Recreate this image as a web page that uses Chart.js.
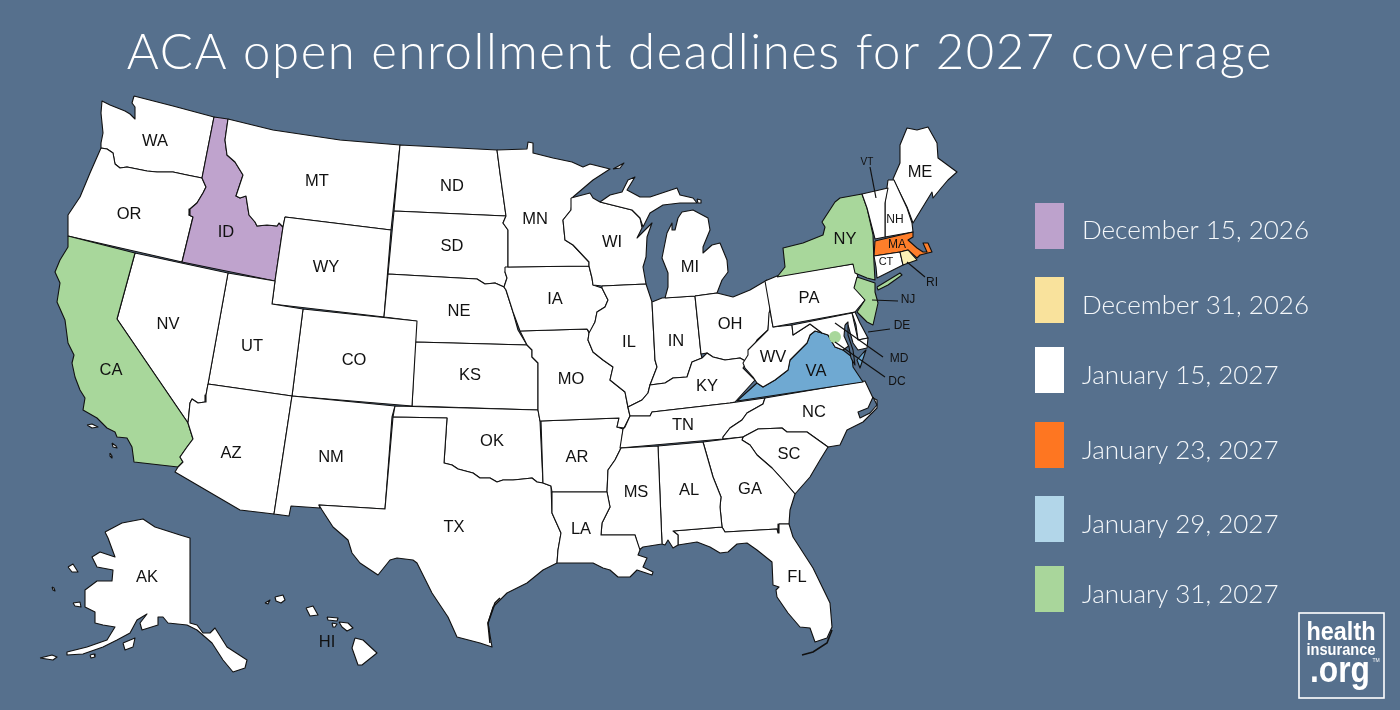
<!DOCTYPE html>
<html><head><meta charset="utf-8">
<style>html,body{margin:0;padding:0;background:#56708d}canvas{display:block}</style>
<script src="https://cdn.jsdelivr.net/npm/chart.js@4"></script></head>
<body><canvas id="c" width="1400" height="710"></canvas>
<script>
const titleText="ACA open enrollment deadlines for 2027 coverage";
const legendLabels=["December 15, 2026","December 31, 2026","January 15, 2027","January 23, 2027","January 29, 2027","January 31, 2027"];
const legendColors=["#bda2cc","#f9e29c","#ffffff","#fe7621","#b2d6e9","#a9d69b"];
const legendTops=[203,277,347,422,496,566];
const legendMids=[231,306,376,451,525,595];
const BG="#56708d",W="#ffffff",P="#bfa3cd",G="#a8d79b",B="#6fa9d2",O="#fe7e2a",Y="#fbf0b4";

const WA=[134,96,173,106,214,117,202,178,187,175,173,172,157,172,147,171,137,169,127,167,120,168,115,164,113,153,107,149,101,148,101,143,103,133,101,113,102,101,110,105,125,111,130,114,135,119,135,107,132,103];
const OR=[101,148,107,149,113,153,115,164,120,168,127,167,137,169,147,171,157,172,173,172,187,175,202,178,206,187,203,193,197,203,190,209,189,215,193,217,182,262,68,236,68,215,80,197,90,173];
const ID=[214,117,228,119,225,140,227,155,235,162,243,175,236,196,240,198,246,196,249,215,255,222,257,226,267,225,277,226,279,223,283,227,275,281,182,262,193,217,189,215,190,209,197,203,203,193,206,187,202,178];
const MT=[228,119,273,130,340,140,400,145,391,230,285,217,283,227,279,223,277,226,267,225,257,226,255,222,249,215,246,196,240,198,236,196,243,175,235,162,227,155,225,140];
const WY=[285,217,391,230,384,317,272,304,275,281,283,227];
const ND=[400,145,497,150,500,173,506,216,394,211];
const SD=[394,211,506,216,503,223,508,230,508,267,505,272,507,278,504,287,495,283,485,284,477,279,388,274];
const NE=[388,274,477,279,485,284,495,283,504,287,506,290,513,312,518,330,527,345,415,342,416,321,384,317];
const KS=[415,342,527,345,532,350,532,357,538,363,538,410,412,406];
const CO=[303,309,417,321,412,406,292,396];
const UT=[228,273,275,281,272,304,303,309,292,396,208,384];
const NV=[135,253,228,273,208,384,206,395,205,402,198,403,192,399,190,403,188,423,117,319];
const CA=[68,236,135,253,117,319,188,423,193,439,187,447,180,457,183,462,178,467,134,462,132,447,127,438,117,437,115,432,107,428,97,418,83,410,85,398,80,390,75,377,72,363,74,355,68,343,65,320,57,302,60,283,55,272,60,260,68,247];
const AZ=[208,384,292,396,274,514,240,510,175,472,178,467,183,462,180,457,187,447,193,439,188,423,190,403,192,399,198,403,205,402,206,395];
const NM=[292,396,395,406,392,417,385,509,319,505,320,508,291,506,289,516,274,514];
const OK=[395,406,538,410,540,421,543,483,537,482,532,478,523,479,513,480,503,480,497,482,490,478,480,478,473,473,458,469,452,465,444,463,447,418,393,417];
const TX=[393,417,447,418,444,463,452,465,458,469,473,473,480,478,490,478,497,482,503,480,513,480,523,479,532,478,537,482,543,483,551,486,552,513,561,533,558,550,557,563,543,570,527,583,507,593,493,607,488,623,492,647,480,643,457,637,448,617,432,593,417,563,413,560,397,558,390,560,378,575,360,563,352,553,348,540,333,527,322,510,319,505,385,509];
const AR=[541,421,619,418,617,427,623,429,621,448,615,460,608,470,607,492,552,492,551,486,543,483];
const MO=[520,331,587,329,589,333,588,340,593,352,603,360,613,367,610,380,625,392,628,408,630,416,624,428,617,427,619,418,540,421,538,410,538,363,532,357,532,350,527,345];
const IA=[505,267,589,266,592,278,593,285,602,288,608,300,605,307,597,312,595,322,590,333,587,329,520,331,513,312,506,290,504,287,507,278,505,272];
const MN=[497,150,527,149,528,142,533,143,533,153,553,158,572,162,583,167,590,164,610,169,593,180,573,197,571,210,563,220,565,240,573,245,589,262,589,266,508,267,508,230,503,223,506,216,500,173];
const WI=[571,198,590,193,593,198,600,202,632,210,640,218,642,228,637,238,652,223,647,237,646,257,643,267,646,284,602,286,593,285,592,278,589,266,589,262,573,245,565,240,563,220,571,210];
const IL=[602,286,646,284,652,302,655,360,657,367,650,385,648,393,642,400,632,405,628,407,625,392,610,380,613,367,603,360,593,352,588,340,589,333,595,322,597,312,605,307,608,300,602,288];
const IN=[652,302,662,298,695,296,701,354,702,358,692,362,687,377,673,378,665,383,650,385,657,367,655,360];
const MIL=[665,298,695,296,717,293,722,280,728,272,727,260,720,243,712,245,703,253,703,247,710,230,708,218,693,210,682,212,678,218,675,230,672,230,672,223,667,233,662,258,668,273,668,287];
const MIU=[600,202,610,195,622,192,628,180,635,177,627,190,640,197,650,197,677,188,680,195,693,198,697,203,680,203,663,205,650,213,643,227,640,218,632,210];
const OH=[695,296,717,293,733,297,750,290,767,280,770,310,768,330,757,340,752,350,747,362,740,358,725,360,713,357,707,353,701,354];
const KY=[702,358,707,353,713,357,725,360,740,358,747,362,743,368,755,380,735,402,730,403,652,412,650,416,630,416,628,407,632,405,642,400,648,393,650,385,665,383,673,378,687,377,692,362];
const TN=[630,416,650,416,652,412,730,403,765,398,763,404,747,413,742,420,730,428,723,437,723,439,620,448,623,429,625,427];
const NC=[765,398,865,381,873,398,877,400,877,408,863,422,847,430,840,445,828,447,807,432,787,432,782,428,758,429,743,437,723,439,723,437,730,428,742,420,747,413,763,404];
const SC=[743,437,758,429,782,428,787,432,807,432,828,447,820,460,810,477,795,494,783,480,772,468,757,455,750,445,742,440];
const GA=[703,442,743,437,742,440,750,445,757,455,772,468,783,480,795,494,790,510,789,524,779,524,778,533,777,529,725,532,722,527,720,507,721,497,713,477];
const FL=[673,531,722,527,725,532,777,529,778,533,779,524,789,524,793,537,813,568,830,603,832,627,827,638,815,642,810,628,800,627,788,613,777,597,776,590,779,587,773,585,772,562,757,550,747,543,737,544,728,552,720,553,710,547,697,542,678,545,678,535];
const AL=[658,446,703,442,713,477,721,497,720,507,722,527,673,531,678,535,678,545,673,548,668,540,665,545,662,544];
const MS=[621,448,658,446,662,544,643,547,639,550,635,535,601,535,602,523,610,507,607,492,608,470,615,460];
const LA=[552,492,607,492,610,507,602,523,601,535,635,535,640,550,638,555,647,558,643,567,653,572,652,575,637,570,630,577,618,577,610,570,603,568,593,563,573,563,557,563,558,550,561,533,552,513];
const VA=[737,401,757,383,763,387,775,380,788,370,790,360,798,352,807,343,810,335,815,331,822,333,828,335,835,347,843,350,852,357,853,367,863,382];
const VAE=[863,353,866,350,860,368,857,360];
const WV=[770,310,773,327,792,325,793,335,810,324,822,333,815,331,810,335,807,343,798,352,790,360,788,370,775,380,763,387,757,383,753,377,745,368,743,363,748,355,748,350,760,338,768,330,769,313];
const PA=[765,281,777,276,853,264,857,273,858,278,855,287,865,300,855,312,773,327];
const NY=[777,277,785,267,783,248,803,243,823,235,825,227,822,222,835,202,840,198,862,194,867,208,873,235,874,263,875,280,867,278,855,273,853,264];
const LI=[877,287,900,273,902,275,888,285,878,290];
const NJ=[857,277,875,283,875,292,878,303,873,325,867,322,857,312,865,300,854,288];
const DE=[852,313,855,312,860,323,868,338,858,340,856,325];
const MD=[792,325,852,313,858,340,868,338,867,348,858,350,853,343,848,325,845,335,850,345,843,350,835,347,828,335,822,333,810,324,793,335];
const BAY=[845,325,848,322,848,335,853,350,855,365,851,358,849,347,844,336];
const ME=[893,179,900,163,900,145,907,128,917,130,928,127,937,143,938,158,957,172,948,180,942,187,933,198,932,192,913,223,907,207];
const NH=[888,180,894,180,907,208,912,223,913,232,885,237,885,203];
const VT=[862,194,888,188,885,203,885,237,875,239,867,208];
const MA=[875,241,913,232,913,237,908,240,917,248,923,252,927,252,923,243,928,243,932,252,920,255,917,258,908,250,900,252,874,256];
const CT=[874,256,900,252,903,265,877,278,876,267];
const RI=[900,252,908,250,917,260,903,265];
const PAM=[873,397,877,405,870,413,860,418,858,412,868,408];
const AK=[105,532,122,523,143,519,155,527,180,535,190,538,190,623,197,625,203,633,210,633,215,628,227,647,247,660,245,668,233,672,223,660,212,643,197,630,187,625,168,623,163,617,158,617,158,625,142,630,140,623,147,614,137,620,130,633,117,640,103,647,83,654,67,655,67,652,87,647,107,640,115,627,103,625,95,623,95,612,85,607,85,590,97,581,112,581,113,570,97,567,92,557,100,552,115,557,108,538];
const KODIAK=[123,643,135,638,133,647,125,650];
const STLAW=[68,567,73,564,78,572,72,572];
const NUNIVAK=[73,603,80,602,81,607,75,606];
const STMATT=[52,587,54,588,55,591,53,590];
const ALEUT=[40,658,52,655,57,657,53,660];
const ALEUT2=[90,655,94,654,95,657,91,658];
const NIIHAU=[265,603,270,600,268,604];
const KAUAI=[275,597,283,595,285,600,281,603,276,601];
const OAHU=[306,608,313,606,318,615,310,616];
const MOLOKAI=[327,617,338,618,337,621,328,620];
const LANAI=[332,623,337,624,335,627,333,627];
const MAUI=[339,622,348,623,353,628,347,631,342,627];
const BIGISLE=[355,638,363,640,377,653,362,665,358,665,352,648];
const ROYALE=[613,169,624,163,620,168];
const DRUMMOND=[697,199,701,200,701,203,698,203];
const CHANISL=[87,425,92,424,98,427,92,428];
const CATALINA=[112,443,116,446,117,448,113,447];
const CLEMENTE=[110,453,112,456,112,458,110,456];
const KEYS=[802,655,813,652,827,643,832,630];
const PADRE=[490,643,488,623,495,603,500,598];

const shapes=[
[WA,W],[OR,W],[ID,P],[MT,W],[WY,W],[ND,W],[SD,W],[NE,W],[KS,W],[CO,W],[UT,W],[NV,W],[CA,G],[AZ,W],[NM,W],[OK,W],[TX,W],[AR,W],[MO,W],[IA,W],[MN,W],[WI,W],[IL,W],[IN,W],[MIL,W],[MIU,W],[OH,W],[KY,W],[TN,W],[NC,W],[SC,W],[GA,W],[FL,W],[AL,W],[MS,W],[LA,W],[VA,B],[VAE,B],[WV,W],[PA,W],[NY,G],[LI,G],[NJ,G],[DE,W],[MD,W],[BAY,BG],[ME,W],[NH,W],[VT,W],[MA,O],[CT,W],[RI,Y],[PAM,BG],
[AK,W],[KODIAK,W],[STLAW,W],[NUNIVAK,W],[STMATT,W],[ALEUT,W],[ALEUT2,W],[NIIHAU,W],[KAUAI,W],[OAHU,W],[MOLOKAI,W],[LANAI,W],[MAUI,W],[BIGISLE,W],[ROYALE,W],[DRUMMOND,W],[CHANISL,W],[CATALINA,W],[CLEMENTE,W]];

const leaders=[[870,167,876,198],[907,262,925,277],[872,300,898,301],[868,332,890,329],[835,323,883,357],[835,342,885,377]];
const heavyLines=[KEYS,PADRE];
const dcPoint=[{x:835,y:337}];

const labelNames=["WA","OR","ID","MT","WY","ND","SD","NE","KS","MN","IA","WI","MI","IL","IN","OH","KY","MO","AR","LA","MS","AL","GA","FL","SC","NC","TN","VA","WV","PA","NY","ME","CA","NV","UT","CO","AZ","NM","TX","OK","AK","HI"];
const labelX=[155,129,226,317,326,452,452,459,470,535,555,612,690,629,676,730,707,571,577,581,636,689,750,797,789,814,683,816,773,809,845,920,111,168,252,354,231,331,454,492,147,327];
const labelY=[141,214,232,181,267,186,246,311,375,219,299,242,267,342,341,324,386,379,457,529,492,490,489,577,454,412,425,371,357,298,239,172,370,324,346,360,453,457,527,441,577,642];
const smallNames=["VT","NH","MA","CT","RI","NJ","DE","MD","DC"];
const smallX=[867,895,897,886,932,908,902,899,897];
const smallY=[162,220,245,262,283,300,326,359,382];
const smallSizes=[10,12,12,11,12,12,12,12,12];

const toPts=a=>{const r=[];for(let i=0;i<a.length;i+=2)r.push({x:a[i],y:a[i+1]});return r;};
const closed=a=>{const p=toPts(a);p.push({...p[0]});return p;};
const datasets=[];
shapes.forEach(([a,c])=>datasets.push({data:closed(a),showLine:true,fill:'shape',backgroundColor:c,borderColor:'#111',borderWidth:1.1,pointRadius:0,borderJoinStyle:'round',tension:0,clip:false}));
datasets.push({data:dcPoint,pointRadius:6,pointBackgroundColor:G,pointBorderColor:G,pointBorderWidth:0,showLine:false});
leaders.forEach(a=>datasets.push({data:toPts(a),showLine:true,fill:false,borderColor:'#111',borderWidth:1.2,pointRadius:0}));
heavyLines.forEach(a=>datasets.push({data:toPts(a),showLine:true,fill:false,borderColor:'#111',borderWidth:1.6,pointRadius:0}));
datasets.reverse();

const TITLE_H=91.8;
const textPlugin={id:'mapText',
 beforeDraw(ch){ch.ctx.letterSpacing='1.6px';},
 beforeDatasetsDraw(ch){ch.ctx.letterSpacing='0px';},
 afterDraw(ch){
  const c=ch.ctx,sx=ch.scales.x,sy=ch.scales.y;
  c.save();c.textAlign='center';c.textBaseline='middle';c.fillStyle='#111';
  c.font='16.5px "Liberation Sans"';
  labelNames.forEach((t,i)=>c.fillText(t,sx.getPixelForValue(labelX[i]),sy.getPixelForValue(labelY[i])));
  smallNames.forEach((t,i)=>{c.font=smallSizes[i]+'px "Liberation Sans"';c.fillText(t,sx.getPixelForValue(smallX[i]),sy.getPixelForValue(smallY[i]));});
  c.textAlign='left';
  legendLabels.forEach((t,i)=>{
   c.fillStyle=legendColors[i];c.fillRect(1035,legendTops[i],29,46);
   c.fillStyle='#f4f7fa';c.font='300 26px Lato';
   c.fillText(t,1082,legendMids[i]);
  });
  c.strokeStyle='#fff';c.lineWidth=1.6;c.strokeRect(1299,613,85,85);
  c.fillStyle='#fff';c.textAlign='center';
  c.font='bold 25px "Liberation Sans"';c.fillText('health',1341,633,69);
  c.font='bold 16px "Liberation Sans"';c.fillText('insurance',1341,651,69);
  c.font='bold 37px "Liberation Sans"';c.fillText('.org',1340,672,60);
  c.font='5px "Liberation Sans"';c.fillText('TM',1376,661);
  c.restore();
 }};

new Chart(document.getElementById('c'),{type:'scatter',data:{datasets},plugins:[textPlugin],
 options:{responsive:false,animation:false,events:[],
  layout:{padding:0,autoPadding:false},
  scales:{x:{type:'linear',min:0,max:1400,display:false},y:{type:'linear',reverse:true,min:TITLE_H,max:710,display:false}},
  plugins:{legend:{display:false},tooltip:{enabled:false},
   title:{display:true,text:titleText,color:'#ffffff',font:{family:'Lato',size:49,weight:'300'},padding:{top:24,bottom:9}}}}});
</script></body></html>
